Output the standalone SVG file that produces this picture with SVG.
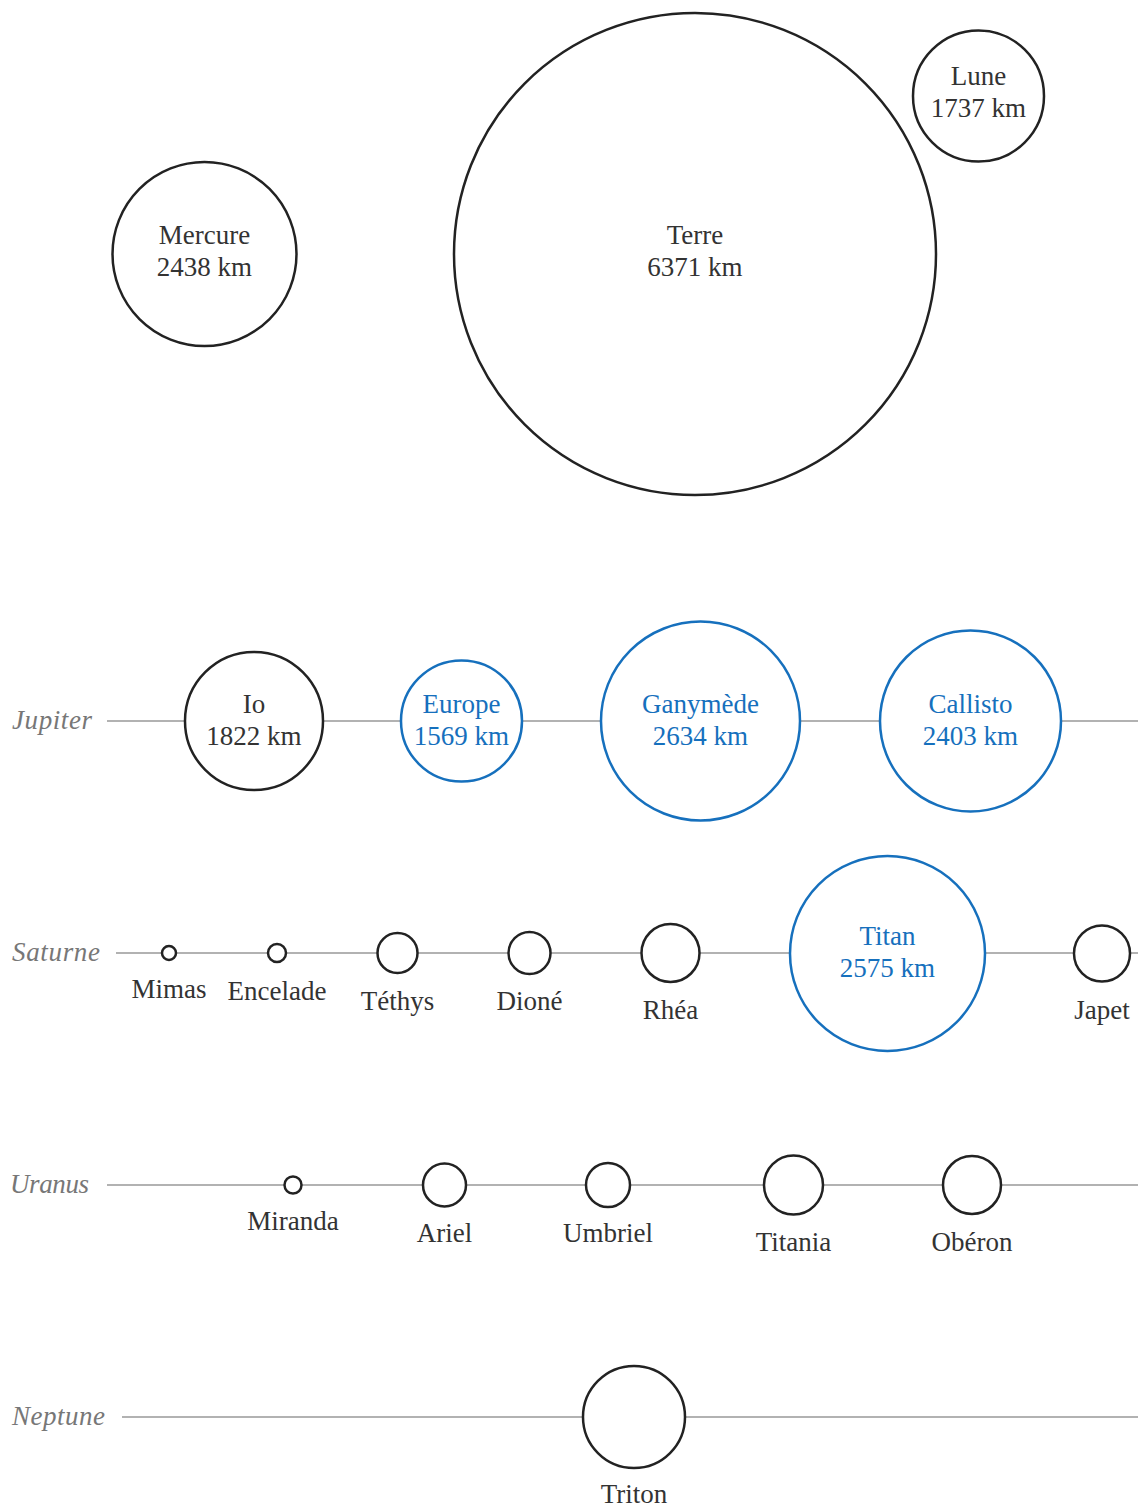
<svg xmlns="http://www.w3.org/2000/svg" width="1138" height="1506" viewBox="0 0 1138 1506">
<style>
.c{fill:#fff;stroke:#222;stroke-width:2.5}
.b{fill:#fff;stroke:#1670bd;stroke-width:2.5}
.t,.tb,.p{font-family:"Liberation Serif","Times New Roman",Tinos,"DejaVu Serif",serif;font-size:27px}
.t{fill:#333;text-anchor:middle}
.tb{fill:#1670bd;text-anchor:middle}
.p{font-style:italic;fill:#777}
.l{stroke:#999;stroke-width:1.3}
</style>
<rect width="1138" height="1506" fill="#fff"/>
<g id="connectors">
<line class="l" x1="107" y1="721" x2="1138" y2="721"/>
<line class="l" x1="116" y1="953" x2="1138" y2="953"/>
<line class="l" x1="107" y1="1185" x2="1138" y2="1185"/>
<line class="l" x1="122" y1="1417" x2="1138" y2="1417"/>
</g>
<g id="labels">
<text class="p" x="12" y="729" textLength="80" lengthAdjust="spacing">Jupiter</text>
<text class="p" x="12" y="961" textLength="88" lengthAdjust="spacing">Saturne</text>
<text class="p" x="10" y="1193" textLength="79" lengthAdjust="spacing">Uranus</text>
<text class="p" x="12" y="1425" textLength="93" lengthAdjust="spacing">Neptune</text>
</g>
<g id="mercure"><circle class="c" cx="204.5" cy="254" r="92"/><text class="t" x="204.5" y="244">Mercure</text><text class="t" x="204.5" y="276">2438 km</text></g>
<g id="terre"><circle class="c" cx="695" cy="254" r="241"/><text class="t" x="695" y="244">Terre</text><text class="t" x="695" y="276">6371 km</text></g>
<g id="lune"><circle class="c" cx="978.5" cy="96" r="65.5"/><text class="t" x="978.5" y="85">Lune</text><text class="t" x="978.5" y="117">1737 km</text></g>
<g id="io"><circle class="c" cx="254" cy="721" r="69"/><text class="t" x="254" y="713">Io</text><text class="t" x="254" y="745">1822 km</text></g>
<g id="europe"><circle class="b" cx="461.5" cy="721" r="60.5"/><text class="tb" x="461.5" y="713">Europe</text><text class="tb" x="461.5" y="745">1569 km</text></g>
<g id="ganymede"><circle class="b" cx="700.5" cy="721" r="99.5"/><text class="tb" x="700.5" y="713">Ganymède</text><text class="tb" x="700.5" y="745">2634 km</text></g>
<g id="callisto"><circle class="b" cx="970.5" cy="721" r="90.5"/><text class="tb" x="970.5" y="713">Callisto</text><text class="tb" x="970.5" y="745">2403 km</text></g>
<g id="mimas"><circle class="c" cx="169" cy="953" r="7"/><text class="t" x="169" y="998">Mimas</text></g>
<g id="encelade"><circle class="c" cx="277" cy="953" r="9"/><text class="t" x="277" y="1000">Encelade</text></g>
<g id="tethys"><circle class="c" cx="397.5" cy="953" r="20"/><text class="t" x="397.5" y="1010">Téthys</text></g>
<g id="dione"><circle class="c" cx="529.5" cy="953" r="21"/><text class="t" x="529.5" y="1010">Dioné</text></g>
<g id="rhea"><circle class="c" cx="670.5" cy="953" r="29"/><text class="t" x="670.5" y="1019">Rhéa</text></g>
<g id="titan"><circle class="b" cx="887.5" cy="953.5" r="97.5"/><text class="tb" x="887.5" y="945">Titan</text><text class="tb" x="887.5" y="977">2575 km</text></g>
<g id="japet"><circle class="c" cx="1102" cy="953.5" r="28"/><text class="t" x="1102" y="1019">Japet</text></g>
<g id="miranda"><circle class="c" cx="293" cy="1185" r="8.5"/><text class="t" x="293" y="1230">Miranda</text></g>
<g id="ariel"><circle class="c" cx="444.5" cy="1185" r="21.5"/><text class="t" x="444.5" y="1242">Ariel</text></g>
<g id="umbriel"><circle class="c" cx="608" cy="1185" r="22"/><text class="t" x="608" y="1242">Umbriel</text></g>
<g id="titania"><circle class="c" cx="793.5" cy="1185" r="29.5"/><text class="t" x="793.5" y="1251">Titania</text></g>
<g id="oberon"><circle class="c" cx="972" cy="1185" r="29"/><text class="t" x="972" y="1251">Obéron</text></g>
<g id="triton"><circle class="c" cx="634" cy="1417" r="51"/><text class="t" x="634" y="1503">Triton</text></g>
</svg>
